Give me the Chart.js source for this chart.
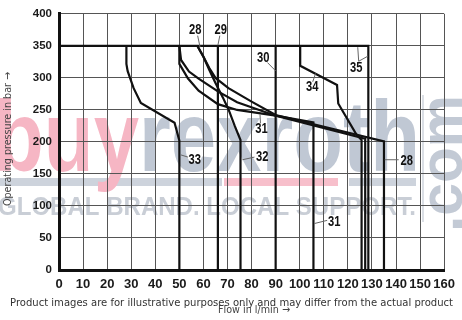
<!DOCTYPE html>
<html><head><meta charset="utf-8">
<script src="https://cdn.jsdelivr.net/npm/chart.js@4.4.1/dist/chart.umd.min.js"></script>
<style>html,body{margin:0;padding:0;background:#fff}canvas{display:block}</style>
</head><body>
<canvas id="c" width="462" height="320"></canvas>
<script>
// ---- data (flow in l/min, pressure in bar) ----
const flowTicks = [0,10,20,30,40,50,60,70,80,90,100,110,120,130,140,150,160];
const pressureTicks = [0,50,100,150,200,250,300,350,400];

const curve35Flow = [0,128.5,128.5];
const curve35Pressure = [350,350,0];
const curve33Flow = [28,28,28.5,29.5,31,34,48,50,50];
const curve33Pressure = [350,322,311,300,284,261,230,202,0];
const curve29Flow = [66,66];
const curve29Pressure = [350,0];
const curve28Flow = [57.5,60,62.5,65,70.4,80,90,135,135];
const curve28Pressure = [350,333,315,300,284,263,242,201,0];
const curve32Flow = [57.5,60,62.5,65,68,70.5,73,75.4,75.4];
const curve32Pressure = [350,333,312,292,270,250,225,203,0];
const curveAFlow = [50,50.7,54,58,66,74,90,127.2,127.2];
const curveAPressure = [350,328,310,299,279,262,241,205,0];
const curve31Flow = [50,50,53.6,58,66,74,90,105.7,105.7];
const curve31Pressure = [350,322,299,280,259,250,241,230.5,0];
const curve30Flow = [90,90];
const curve30Pressure = [350,0];
const curve34Flow = [100.2,100.2,115.5,116,123.5,125.7,125.7];
const curve34Pressure = [350,319,289,260,212,203,0];

const curves = [
  [curve35Flow, curve35Pressure],[curve33Flow, curve33Pressure],[curve29Flow, curve29Pressure],
  [curve28Flow, curve28Pressure],[curve32Flow, curve32Pressure],[curveAFlow, curveAPressure],
  [curve31Flow, curve31Pressure],[curve30Flow, curve30Pressure],[curve34Flow, curve34Pressure]
];

// curve labels: text, anchor (flow, pressure), leader segments
const curveLabels = [
  {t:'28', x:56.6, y:375, lead:[[57.6,366,58.6,348]]},
  {t:'29', x:67.2, y:375, lead:[[66.8,366,66,351]]},
  {t:'30', x:84.8, y:331.6, lead:[[86.6,324,90,311]]},
  {t:'34', x:105.2, y:285, lead:[[105.4,294,106.6,307]]},
  {t:'35', x:123.5, y:315.6, lead:[[124.5,326,124.1,348],[124.5,326,128.3,334]]},
  {t:'31', x:84.1, y:219.3, lead:[[83.7,229,83.5,243]]},
  {t:'32', x:84.4, y:175.8, lead:[[81.2,176.3,76.2,172.2]]},
  {t:'33', x:56.4, y:172.2, lead:[[53.6,176.3,50.6,179.8]]},
  {t:'28', x:144.5, y:169.5, lead:[[135.3,172.2,141.1,172.2]]},
  {t:'31', x:114.3, y:74.5, lead:[[106,72.5,111.4,77.5]]}
];

function fitText(ctx, txt, x, y, w){
  const m = ctx.measureText(txt).width;
  ctx.save(); ctx.translate(x,y); ctx.scale(w/m,1); ctx.fillText(txt,0,0); ctx.restore();
}

const watermark = {
  id:'wm',
  beforeDraw(chart){
    const ctx = chart.ctx;
    ctx.save();
    // stripes
    ctx.fillStyle = '#cdd3dc'; ctx.fillRect(0,178,222,8);
    ctx.fillStyle = '#f7bfcb'; ctx.fillRect(224,178,114,8);
    ctx.fillStyle = '#cdd3dc'; ctx.fillRect(349,178,67,8);
    // buyrexroth
    ctx.font = 'bold 100px "Liberation Sans"';
    ctx.textBaseline = 'alphabetic'; ctx.textAlign = 'left';
    const wBuy = ctx.measureText('buy').width, wAll = ctx.measureText('buyrexroth').width;
    ctx.save();
    ctx.translate(-6,171); ctx.scale(426/wAll,1);
    ctx.fillStyle = '#f6b6c4'; ctx.fillText('buy',0,0);
    ctx.fillStyle = '#c0c8d4'; ctx.fillText('rexroth',wBuy,0);
    ctx.restore();
    // tagline
    ctx.font = 'bold 25px "Liberation Sans"';
    ctx.fillStyle = '#c9ced6';
    fitText(ctx,'GLOBAL BRAND. LOCAL SUPPORT.',-2,215,418);
    // .com vertical
    ctx.save();
    ctx.translate(462,232); ctx.rotate(-Math.PI/2);
    ctx.font = 'bold 62px "Liberation Sans"';
    ctx.fillStyle = '#c3cad5';
    fitText(ctx,'.com',0,0,137);
    ctx.restore();
    // separator
    ctx.strokeStyle = '#cfd4dc'; ctx.lineWidth = 1.5;
    ctx.beginPath(); ctx.moveTo(423,95); ctx.lineTo(423,222); ctx.stroke();
    ctx.restore();
  },
  afterDatasetsDraw(chart){
    const ctx = chart.ctx, sx = chart.scales.x, sy = chart.scales.y;
    ctx.save();
    ctx.strokeStyle = '#666'; ctx.lineWidth = 1;
    curveLabels.forEach(l=>{
      l.lead.forEach(s=>{
        ctx.beginPath();
        ctx.moveTo(sx.getPixelForValue(s[0]), sy.getPixelForValue(s[1]));
        ctx.lineTo(sx.getPixelForValue(s[2]), sy.getPixelForValue(s[3]));
        ctx.stroke();
      });
    });
    ctx.font = 'bold 14px "Liberation Sans"';
    ctx.fillStyle = '#111'; ctx.textAlign = 'center'; ctx.textBaseline = 'middle';
    curveLabels.forEach(l=>{
      ctx.save();
      ctx.translate(sx.getPixelForValue(l.x), sy.getPixelForValue(l.y));
      ctx.scale(0.8,1);
      ctx.fillText(l.t,0,0);
      ctx.restore();
    });
    ctx.restore();
  },
  afterDraw(chart){
    const ctx = chart.ctx;
    ctx.save();
    ctx.textBaseline = 'alphabetic'; ctx.textAlign = 'left';
    // y axis title
    ctx.save();
    ctx.translate(10.5,206); ctx.rotate(-Math.PI/2);
    ctx.font = '11px "DejaVu Sans"'; ctx.fillStyle = '#444';
    fitText(ctx,'Operating pressure in bar \u2192',0,0,134);
    ctx.restore();
    // x axis title
    ctx.font = '11px "DejaVu Sans"'; ctx.fillStyle = '#444';
    fitText(ctx,'Flow in l/min \u2192',218,313,72);
    // footer
    ctx.font = '11px "DejaVu Sans"'; ctx.fillStyle = '#333';
    fitText(ctx,'Product images are for illustrative purposes only and may differ from the actual product',10,306,443);
    ctx.restore();
  }
};

new Chart(document.getElementById('c').getContext('2d'), {
  type:'scatter',
  data:{
    datasets: curves.map(c=>({
      data: c[0].map((x,i)=>({x:x, y:c[1][i]})),
      showLine:true, borderColor:'#111', borderWidth:2.2,
      pointRadius:0, pointHoverRadius:0, fill:false, tension:0
    }))
  },
  options:{
    responsive:false, animation:false, devicePixelRatio:1,
    layout:{padding:{top:7,right:11,left:0,bottom:0}},
    plugins:{legend:{display:false}, tooltip:{enabled:false}},
    events:[],
    scales:{
      x:{
        type:'linear', min:0, max:160,
        afterBuildTicks:s=>{ s.ticks = flowTicks.map(v=>({value:v})); },
        ticks:{font:{family:'Liberation Sans', weight:'bold', size:13}, color:'#1a1a1a', padding:7, autoSkip:false, maxRotation:0},
        grid:{color:'#555', lineWidth:1, drawTicks:false},
        border:{color:'#111', width:3},
        afterFit:s=>{ s.height = 50; }
      },
      y:{
        type:'linear', min:0, max:400,
        afterBuildTicks:s=>{ s.ticks = pressureTicks.map(v=>({value:v})); },
        ticks:{font:{family:'Liberation Sans', weight:'bold', size:11.5}, color:'#1a1a1a', padding:7, autoSkip:false},
        grid:{color:'#555', lineWidth:1, drawTicks:false},
        border:{color:'#111', width:3},
        afterFit:s=>{ s.width = 59; }
      }
    }
  },
  plugins:[watermark]
});
</script>
</body></html>
